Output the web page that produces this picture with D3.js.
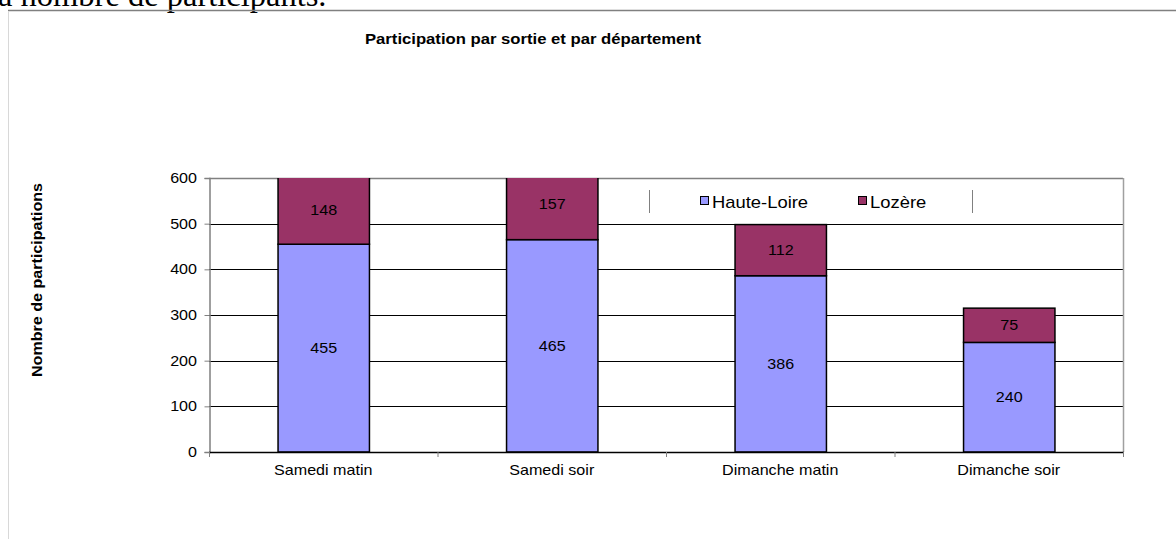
<!DOCTYPE html>
<html><head><meta charset="utf-8">
<script src="https://cdn.jsdelivr.net/npm/d3@7/dist/d3.min.js"></script>
<style>body{margin:0;background:#fff;} svg{display:block;}</style>
</head><body>
<svg id="c" width="1176" height="539"></svg>
<script>
const categories = ["Samedi matin", "Samedi soir", "Dimanche matin", "Dimanche soir"];
const hauteLoire = [455, 465, 386, 240];
const lozere = [148, 157, 112, 75];
const seriesNames = ["Haute-Loire", "Lozère"];
const seriesColors = ["#9999FF", "#993366"];
const yTicks = [0, 100, 200, 300, 400, 500, 600];

const svg = d3.select("#c");
const font = "Arial, 'Liberation Sans', sans-serif";
const SX = 1.15;

// page fragments
svg.append("text").attr("x", -2).attr("y", 6).attr("font-family", "'Liberation Serif', 'Times New Roman', serif")
  .attr("font-size", 32.5).attr("fill", "#000").text("a nombre de participants.");
svg.append("line").attr("x1", 8).attr("x2", 1176).attr("y1", 10.5).attr("y2", 10.5).attr("stroke", "#808080").attr("stroke-width", 1.5);
svg.append("line").attr("x1", 8.5).attr("x2", 8.5).attr("y1", 11).attr("y2", 539).attr("stroke", "#d8d8d8").attr("stroke-width", 1);

const m = {left: 209, right: 1123, top: 178, bottom: 452};
const x = d3.scaleBand().domain(categories).range([m.left, m.right]).paddingInner(0.6).paddingOuter(0.3);
const xb = d3.scaleBand().domain(categories).range([m.left, m.right]);
const y = d3.scaleLinear().domain([0, 600]).range([m.bottom, m.top]);

function stext(g, tx, ty, str, opts) {
  const t = g.append("text").attr("transform", `translate(${tx},${ty})${opts.rotate ? " rotate(" + opts.rotate + ")" : ""} scale(${SX},1)`)
    .attr("text-anchor", opts.anchor || "middle").attr("font-family", font).attr("font-size", opts.size || 14)
    .attr("fill", "#000").text(str);
  if (opts.bold) t.attr("font-weight", "bold");
  return t;
}

stext(svg, 533, 44, "Participation par sortie et par département", {size: 14.5, bold: true});
stext(svg, 42, 280, "Nombre de participations", {size: 14, bold: true, rotate: -90});

// gridlines
svg.append("g").selectAll("line").data(yTicks.filter(t => t > 0 && t < 600)).join("line")
  .attr("x1", m.left).attr("x2", m.right).attr("y1", d => Math.round(y(d)) + 0.5).attr("y2", d => Math.round(y(d)) + 0.5)
  .attr("stroke", "#000").attr("stroke-width", 1);

// plot border top/right
svg.append("line").attr("x1", m.left).attr("x2", m.right).attr("y1", m.top + 0.5).attr("y2", m.top + 0.5).attr("stroke", "#808080").attr("stroke-width", 1.5);
svg.append("line").attr("x1", m.right + 0.5).attr("x2", m.right + 0.5).attr("y1", m.top).attr("y2", m.bottom).attr("stroke", "#a0a0a0").attr("stroke-width", 1.5);

// bars
svg.append("clipPath").attr("id", "pc").append("rect")
  .attr("x", m.left).attr("y", m.top).attr("width", m.right - m.left + 2).attr("height", m.bottom - m.top + 2);
const stackData = categories.map((c, i) => ({cat: c, "Haute-Loire": hauteLoire[i], "Lozère": lozere[i]}));
const stacked = d3.stack().keys(seriesNames)(stackData);
const gBars = svg.append("g").attr("clip-path", "url(#pc)");
stacked.forEach((s, si) => {
  gBars.selectAll(null).data(s).join("rect")
    .attr("x", d => x(d.data.cat) + 0.5).attr("width", x.bandwidth())
    .attr("y", d => y(d[1])).attr("height", d => y(d[0]) - y(d[1]))
    .attr("fill", seriesColors[si]).attr("stroke", "#000").attr("stroke-width", 1.5);
});
const gLab = svg.append("g");
stacked.forEach((s) => {
  s.forEach(d => stext(gLab, x(d.data.cat) + x.bandwidth() / 2 + 0.5, y((d[0] + d[1]) / 2) + 5, String(d[1] - d[0]), {size: 14}));
});

// y axis
const yAxis = svg.append("g").attr("transform", `translate(${m.left + 0.5},0)`)
  .call(d3.axisLeft(y).tickValues(yTicks).tickSize(5).tickFormat(""));
yAxis.select(".domain").attr("stroke", "#808080").attr("stroke-width", 1.5);
yAxis.selectAll(".tick line").attr("stroke", "#808080");
yTicks.forEach(t => stext(svg, 197, y(t) + 5, String(t), {size: 14, anchor: "end"}));

// x axis
svg.append("line").attr("x1", m.left).attr("x2", m.right + 1).attr("y1", m.bottom + 0.5).attr("y2", m.bottom + 0.5).attr("stroke", "#000").attr("stroke-width", 1.5);
svg.append("g").selectAll("line").data(categories.concat(["end"])).join("line")
  .attr("x1", (d, i) => i < categories.length ? xb(d) + 0.5 : m.right + 0.5)
  .attr("x2", (d, i) => i < categories.length ? xb(d) + 0.5 : m.right + 0.5)
  .attr("y1", m.bottom).attr("y2", m.bottom + 5).attr("stroke", "#808080");
categories.forEach(c => stext(svg, xb(c) + xb.bandwidth() / 2, m.bottom + 23, c, {size: 14}));

// legend
svg.append("line").attr("x1", 649.5).attr("x2", 649.5).attr("y1", 190).attr("y2", 213).attr("stroke", "#808080");
svg.append("line").attr("x1", 972.5).attr("x2", 972.5).attr("y1", 190).attr("y2", 213).attr("stroke", "#808080");
const legX = [700, 858];
seriesNames.forEach((n, i) => {
  svg.append("rect").attr("x", legX[i] + 0.5).attr("y", 196.5).attr("width", 8).attr("height", 8)
    .attr("fill", seriesColors[i]).attr("stroke", "#000").attr("stroke-width", 1);
  stext(svg, legX[i] + 12, 207.5, n, {size: 16, anchor: "start"});
});
</script>
</body></html>
